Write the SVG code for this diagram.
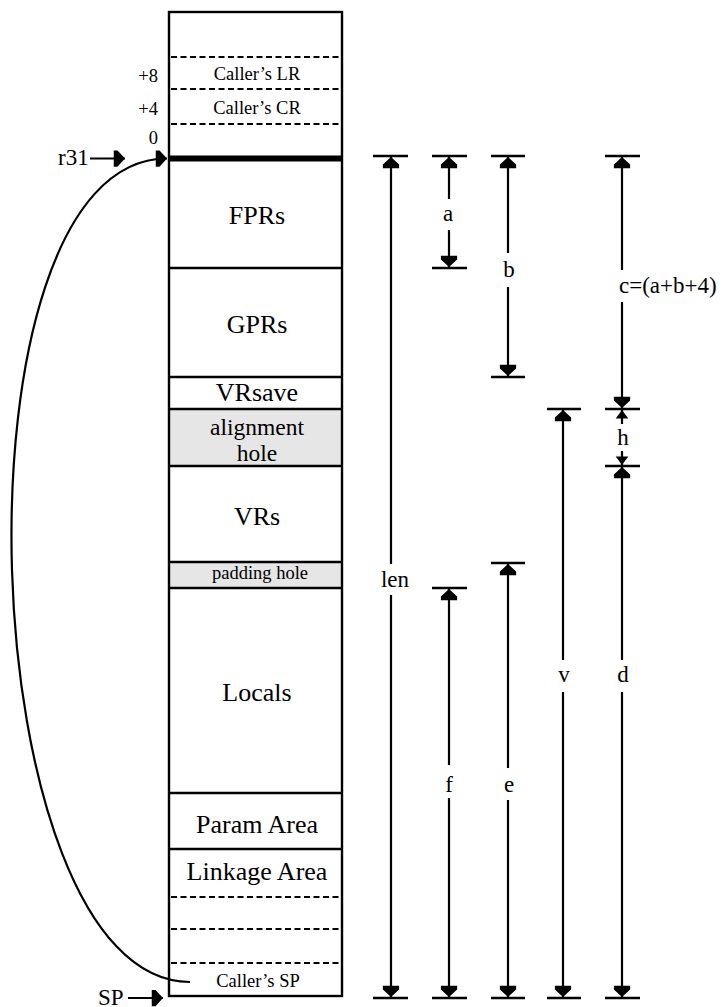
<svg xmlns="http://www.w3.org/2000/svg" width="724" height="1007" viewBox="0 0 724 1007">
<style>
text{font-family:"Liberation Serif","Times New Roman",serif;fill:#000}
.m{font-size:26px;text-anchor:middle}
.al{font-size:23.5px;text-anchor:middle}
.s{font-size:18.5px;text-anchor:middle}
.n{font-size:18.5px;text-anchor:end}
.d{font-size:23px;text-anchor:middle}
.p{font-size:23px}
.row{stroke:#000;stroke-width:2.4;fill:none}
.dash{stroke:#000;stroke-width:2;stroke-dasharray:6 3.5;fill:none}
.dim{stroke:#000;stroke-width:2.2;fill:none}
.tick{stroke:#000;stroke-width:2.4;fill:none}
</style>
<defs>
<marker id="ah" markerUnits="userSpaceOnUse" markerWidth="20" markerHeight="20" viewBox="-10 -8 12 16" refX="0" refY="0" orient="auto-start-reverse">
<path d="M0,0 L-6,-6.5 L-9,-6.5 L-9,6.5 L-6,6.5 Z" fill="#000"/>
</marker>
<marker id="ahs" markerUnits="userSpaceOnUse" markerWidth="14" markerHeight="14" viewBox="-7 -5 8 10" refX="0" refY="0" orient="auto-start-reverse">
<path d="M0,0 L-6,-4.5 L-6,4.5 Z" fill="#000"/>
</marker>
</defs>

<g id="stack">
<rect x="169" y="409" width="173" height="57" fill="#e6e6e6"/>
<rect x="169" y="562" width="173" height="26" fill="#e6e6e6"/>
<rect x="169" y="12" width="173" height="984" class="row"/>
<line x1="171" y1="57" x2="341" y2="57" class="dash"/>
<line x1="171" y1="89" x2="341" y2="89" class="dash"/>
<line x1="171" y1="124" x2="341" y2="124" class="dash"/>
<line x1="169" y1="158.5" x2="342" y2="158.5" stroke="#000" stroke-width="6"/>
<line x1="169" y1="268" x2="342" y2="268" class="row"/>
<line x1="169" y1="377" x2="342" y2="377" class="row"/>
<line x1="169" y1="409" x2="342" y2="409" class="row"/>
<line x1="169" y1="466" x2="342" y2="466" class="row"/>
<line x1="169" y1="562" x2="342" y2="562" class="row"/>
<line x1="169" y1="588" x2="342" y2="588" class="row"/>
<line x1="169" y1="793" x2="342" y2="793" class="row"/>
<line x1="169" y1="849" x2="342" y2="849" class="row"/>
<line x1="171" y1="897" x2="341" y2="897" class="dash"/>
<line x1="171" y1="929" x2="341" y2="929" class="dash"/>
<line x1="171" y1="963" x2="341" y2="963" class="dash"/>
</g>

<g id="labels-stack">
<text class="s" x="257" y="80">Caller’s LR</text>
<text class="s" x="257" y="114">Caller’s CR</text>
<text class="n" x="158" y="82">+8</text>
<text class="n" x="158" y="115">+4</text>
<text class="n" x="158" y="144">0</text>
<text class="m" x="257" y="224">FPRs</text>
<text class="m" x="257" y="333">GPRs</text>
<text class="m" x="257" y="401">VRsave</text>
<text class="al" x="257" y="435">alignment</text>
<text class="al" x="257" y="461">hole</text>
<text class="m" x="257" y="525">VRs</text>
<text class="s" x="260" y="579">padding hole</text>
<text class="m" x="257" y="701">Locals</text>
<text class="m" x="257" y="833">Param Area</text>
<text class="m" x="257" y="880">Linkage Area</text>
<text class="s" x="258" y="987">Caller’s SP</text>
</g>

<g id="r31">
<text class="p" x="58" y="165">r31</text>
</g>
<g id="SP">
<text class="p" x="98" y="1005">SP</text>
</g>

<g id="connectors">
<line x1="90" y1="158.5" x2="125" y2="158.5" class="dim" marker-end="url(#ah)"/>
<line x1="128" y1="998" x2="163" y2="998" class="dim" marker-end="url(#ah)"/>
<path d="M167,158.5 C-57,158.5 -30,982 190,982" class="dim" marker-start="url(#ah)"/>
</g>

<g id="dimensions">
<line x1="373" y1="156" x2="408" y2="156" class="tick"/>
<line x1="373" y1="998" x2="408" y2="998" class="tick"/>
<line x1="432" y1="156" x2="467" y2="156" class="tick"/>
<line x1="432" y1="268" x2="467" y2="268" class="tick"/>
<line x1="432" y1="588" x2="467" y2="588" class="tick"/>
<line x1="432" y1="998" x2="467" y2="998" class="tick"/>
<line x1="491" y1="156" x2="525" y2="156" class="tick"/>
<line x1="491" y1="377" x2="525" y2="377" class="tick"/>
<line x1="491" y1="563" x2="525" y2="563" class="tick"/>
<line x1="491" y1="998" x2="525" y2="998" class="tick"/>
<line x1="547" y1="409" x2="581" y2="409" class="tick"/>
<line x1="547" y1="998" x2="581" y2="998" class="tick"/>
<line x1="605" y1="156" x2="640" y2="156" class="tick"/>
<line x1="605" y1="409" x2="640" y2="409" class="tick"/>
<line x1="605" y1="466" x2="640" y2="466" class="tick"/>
<line x1="605" y1="998" x2="640" y2="998" class="tick"/>
<line x1="391" y1="564" x2="391" y2="157" class="dim" marker-end="url(#ah)"/>
<line x1="391" y1="595" x2="391" y2="997" class="dim" marker-end="url(#ah)"/>
<text class="d" x="395" y="587">len</text>
<line x1="449" y1="199" x2="449" y2="157" class="dim" marker-end="url(#ah)"/>
<line x1="449" y1="230" x2="449" y2="267" class="dim" marker-end="url(#ah)"/>
<text class="d" x="448" y="221">a</text>
<line x1="449" y1="765" x2="449" y2="589" class="dim" marker-end="url(#ah)"/>
<line x1="449" y1="798" x2="449" y2="997" class="dim" marker-end="url(#ah)"/>
<text class="d" x="449" y="792">f</text>
<line x1="508" y1="253" x2="508" y2="157" class="dim" marker-end="url(#ah)"/>
<line x1="508" y1="287" x2="508" y2="376" class="dim" marker-end="url(#ah)"/>
<text class="d" x="509" y="277">b</text>
<line x1="508" y1="768" x2="508" y2="564" class="dim" marker-end="url(#ah)"/>
<line x1="508" y1="800" x2="508" y2="997" class="dim" marker-end="url(#ah)"/>
<text class="d" x="509" y="792">e</text>
<line x1="563" y1="660" x2="563" y2="410" class="dim" marker-end="url(#ah)"/>
<line x1="563" y1="692" x2="563" y2="997" class="dim" marker-end="url(#ah)"/>
<text class="d" x="564" y="682">v</text>
<line x1="622" y1="270" x2="622" y2="157" class="dim" marker-end="url(#ah)"/>
<line x1="622" y1="302" x2="622" y2="408" class="dim" marker-end="url(#ah)"/>
<text class="d" x="619" y="293" style="text-anchor:start">c=(a+b+4)</text>
<line x1="622" y1="424" x2="622" y2="410" class="dim" marker-end="url(#ahs)"/>
<line x1="622" y1="451" x2="622" y2="465" class="dim" marker-end="url(#ahs)"/>
<text class="d" x="623" y="445">h</text>
<line x1="622" y1="660" x2="622" y2="467" class="dim" marker-end="url(#ah)"/>
<line x1="622" y1="692" x2="622" y2="997" class="dim" marker-end="url(#ah)"/>
<text class="d" x="623" y="682">d</text>
</g>
</svg>
